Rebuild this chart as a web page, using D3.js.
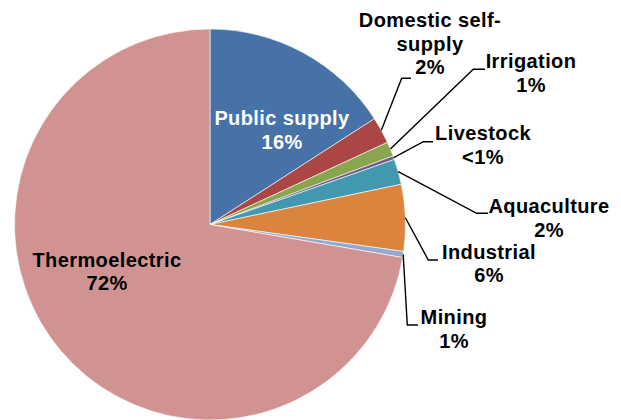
<html>
<head>
  <script src="https://d3js.org/d3.v7.min.js"></script>
  <style>
    body { margin: 0; background: #ffffff; }
    .lbl { font-family: 'Liberation Sans', Arial, sans-serif; font-size: 20px; font-weight: bold; letter-spacing: 0.4px; }
  </style>
</head>
<body>
  <div id="chart"></div>
  <script>
    // water use categories, clockwise from 12 o'clock
    const categories = ["Public supply", "Domestic self-supply", "Irrigation", "Livestock",
      "Aquaculture", "Industrial", "Mining", "Thermoelectric"];
    const values = [15.9, 2.2, 1.2, 0.3, 2.1, 5.5, 0.5, 72.3];
    const pctLabels = ["16%", "2%", "1%", "<1%", "2%", "6%", "1%", "72%"];
    const colors = ["#4672a8", "#aa4643", "#89a54e", "#71588f", "#4198af", "#db843d", "#93a9cf", "#d19392"];

    // label layout: text lines, centre x, first baseline, leader elbow + end
    const labelLayout = [
      { lines: ["Public supply"], inside: true, x: 282, y: 125 },
      { lines: ["Domestic self-", "supply"], x: 430, y: 27, elbow: [401.7, 78.3], end: 411 },
      { lines: ["Irrigation"], x: 531, y: 68, elbow: [473.3, 69.3], end: 485 },
      { lines: ["Livestock"], x: 483, y: 140, elbow: [423.3, 141.7], end: 433 },
      { lines: ["Aquaculture"], x: 549, y: 213, elbow: [476.7, 213.3], end: 488 },
      { lines: ["Industrial"], x: 489, y: 258.5, elbow: [428.3, 260], end: 438 },
      { lines: ["Mining"], x: 454, y: 324, elbow: [407.3, 325], end: 418 },
      { lines: ["Thermoelectric"], inside: true, x: 107, y: 266.7 }
    ];

    const width = 621, height = 420;
    const cx = 210, cy = 224.5, r = 195.5;
    const lineH = 23.5;

    const svg = d3.select("#chart").append("svg")
      .attr("width", width)
      .attr("height", height);

    const g = svg.append("g").attr("transform", `translate(${cx},${cy})`);

    const data = categories.map((c, i) => ({ name: c, value: values[i], i: i }));
    const pie = d3.pie().sort(null).value(d => d.value);
    const arc = d3.arc().innerRadius(0).outerRadius(r);
    const arcs = pie(data);

    g.selectAll("path.slice")
      .data(arcs)
      .enter()
      .append("path")
      .attr("class", "slice")
      .attr("d", arc)
      .attr("fill", d => colors[d.data.i])
      .attr("stroke", "#ffffff")
      .attr("stroke-width", 0.6);

    // leader lines for the small slices, starting at the slice's outer mid point
    arcs.forEach(a => {
      const L = labelLayout[a.data.i];
      if (L.inside) return;
      const mid = (a.startAngle + a.endAngle) / 2;
      const sx = cx + r * Math.sin(mid), sy = cy - r * Math.cos(mid);
      svg.append("polyline")
        .attr("points", `${sx},${sy} ${L.elbow[0]},${L.elbow[1]} ${L.end},${L.elbow[1]}`)
        .attr("fill", "none")
        .attr("stroke", "#000")
        .attr("stroke-width", 1.4);
    });

    // labels
    labelLayout.forEach((L, i) => {
      const t = svg.append("text")
        .attr("class", "lbl")
        .attr("text-anchor", "middle")
        .attr("fill", i === 0 ? "#ffffff" : "#000000");
      L.lines.concat([pctLabels[i]]).forEach((s, k) => {
        t.append("tspan")
          .attr("x", L.x)
          .attr("y", L.y + k * lineH)
          .text(s);
      });
    });
  </script>
</body>
</html>
